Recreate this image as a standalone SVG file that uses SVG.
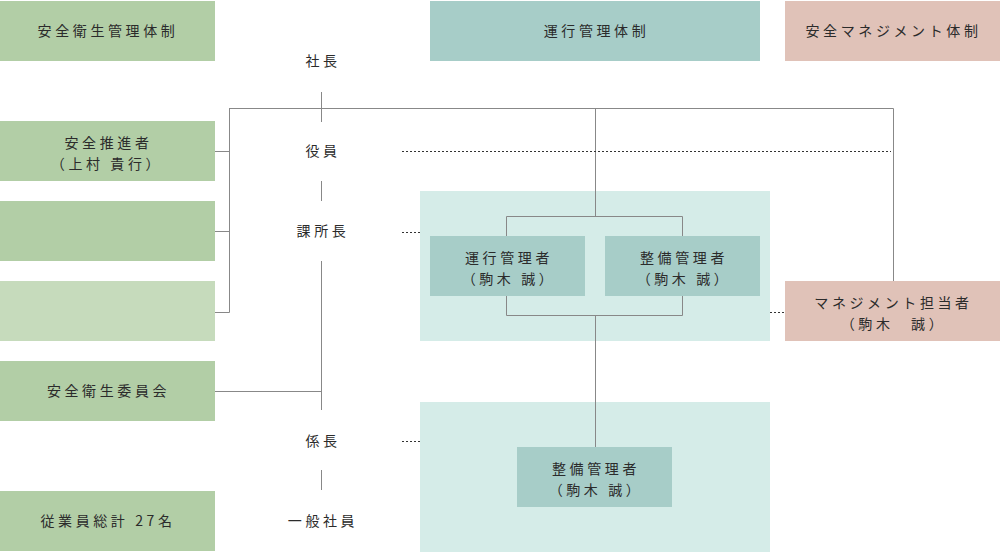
<svg xmlns="http://www.w3.org/2000/svg" width="1000" height="552" viewBox="0 0 1000 552">
<style>
text{font-family:"Noto Sans CJK JP","Noto Sans",sans-serif;font-size:14px;fill:#2b2b2b;text-anchor:middle;letter-spacing:3.6px}
.g{fill:#b2cea6}.gl{fill:#c6dbbc}.t{fill:#a7cdc8}.tb{fill:#d5ece8}.p{fill:#e0c2b8}
.ln{stroke:#888;stroke-width:1;fill:none}
.dt{stroke:#333;stroke-width:1;stroke-dasharray:2 2;fill:none}
</style>
<rect width="1000" height="552" fill="#fff"/>
<g id="regions">
<rect class="tb" x="420" y="191" width="350" height="150"/>
<rect class="tb" x="420" y="402" width="350" height="150"/>
</g>
<g id="connectors">
<path class="ln" d="M321.5 92V122M321.5 181V201M321.5 261V410M321.5 470V490"/>
<path class="ln" d="M229.5 108.5H893.5V281M229.5 108V312.5H215M215 151.5H229.5M215 231.5H229.5M215 391.5H321.5"/>
<path class="ln" d="M595.5 108V216M506.5 236V216.5H682.5V236M506.5 296V315.5H682.5V296M595.5 315V447"/>
<path class="dt" d="M402 151.5H891M402 232.5H420M402 441.5H420M770 312.5H785"/>
</g>
<g id="n-safety-title"><rect class="g" x="0" y="1" width="215" height="60"/><text x="108" y="36">安全衛生管理体制</text></g>
<g id="n-ops-title"><rect class="t" x="430" y="1" width="330" height="60"/><text x="596.5" y="36">運行管理体制</text></g>
<g id="n-mgmt-title"><rect class="p" x="785" y="1" width="215" height="60"/><text x="893.5" y="36">安全マネジメント体制</text></g>
<g id="n-promoter"><rect class="g" x="0" y="121" width="215" height="60"/><text x="108.5" y="148">安全推進者</text><text x="107" y="169">（上村 貴行）</text></g>
<g id="n-blank1"><rect class="g" x="0" y="201" width="215" height="60"/></g>
<g id="n-blank2"><rect class="gl" x="0" y="281" width="215" height="60"/></g>
<g id="n-committee"><rect class="g" x="0" y="361" width="215" height="60"/><text x="108.5" y="396">安全衛生委員会</text></g>
<g id="n-employees"><rect class="g" x="0" y="491" width="215" height="60"/><text x="108" y="526">従業員総計 27名</text></g>
<g id="n-president"><text x="323" y="66">社長</text></g>
<g id="n-officer"><text x="323" y="156">役員</text></g>
<g id="n-manager"><text x="323" y="236">課所長</text></g>
<g id="n-chief"><text x="323" y="446">係長</text></g>
<g id="n-staff"><text x="323" y="526">一般社員</text></g>
<g id="n-ops-mgr"><rect class="t" x="430" y="236" width="155" height="60"/><text x="509" y="263">運行管理者</text><text x="509" y="284">（駒木 誠）</text></g>
<g id="n-maint-mgr1"><rect class="t" x="605" y="236" width="155" height="60"/><text x="684" y="263">整備管理者</text><text x="684" y="284">（駒木 誠）</text></g>
<g id="n-maint-mgr2"><rect class="t" x="517" y="447" width="155" height="60"/><text x="596" y="474">整備管理者</text><text x="596" y="495">（駒木 誠）</text></g>
<g id="n-mgmt-person"><rect class="p" x="785" y="281" width="215" height="60"/><text x="893.5" y="308">マネジメント担当者</text><text x="893.5" y="329">（駒木　誠）</text></g>
</svg>
